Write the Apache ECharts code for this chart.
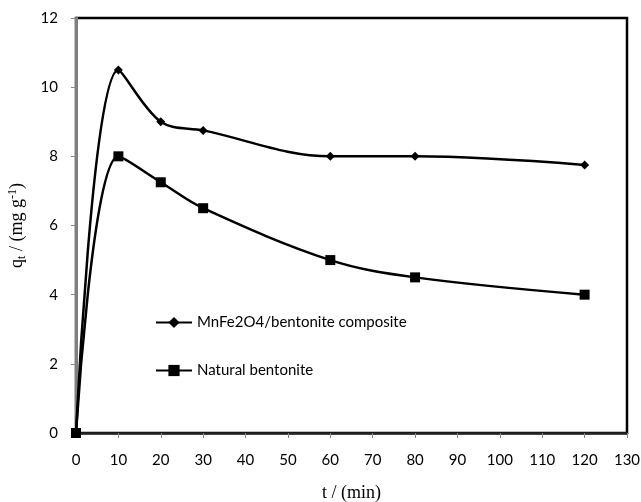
<!DOCTYPE html>
<html>
<head>
<meta charset="utf-8">
<script src="https://cdn.jsdelivr.net/npm/echarts@6/dist/echarts.min.js"></script>
<style>
  html, body { margin: 0; padding: 0; background: #fff; }
  #chart { width: 641px; height: 502px; }
</style>
</head>
<body>
<div id="chart"></div>
<script>
// time points (min)
const times = [0, 10, 20, 30, 60, 80, 120]
// q_t values (mg/g)
const compositeQ = [0, 10.5, 9, 8.75, 8, 8, 7.75]
const bentoniteQ = [0, 8, 7.25, 6.5, 5, 4.5, 4]
const seriesNames = ["MnFe2O4/bentonite composite", "Natural bentonite"]

const chart = echarts.init(document.getElementById("chart"))

const pairs = (ys) => times.map((t, i) => [t, ys[i]])

const tickFont = { fontFamily: "Lato", fontSize: 15, color: "#000" }

const option = {
  animation: false,
  backgroundColor: "#fff",
  grid: {
    left: 76, right: 14, top: 18, bottom: 69,
    outerBoundsMode: "none",
    show: true, borderColor: "#000", borderWidth: 2.5, backgroundColor: "transparent"
  },
  legend: {
    orient: "vertical",
    left: 150,
    top: 310,
    itemGap: 33,
    itemWidth: 36,
    itemHeight: 14,
    textStyle: { fontFamily: "Lato", fontSize: 15, color: "#000" },
    data: seriesNames
  },
  xAxis: {
    type: "value",
    min: 0, max: 130, interval: 10,
    splitLine: { show: false },
    axisLine: { lineStyle: { color: "#222", width: 2.5 } },
    axisTick: { length: 5, lineStyle: { color: "#888" } },
    axisLabel: Object.assign({ margin: 20 }, tickFont),
    name: "t / (min)",
    nameLocation: "middle",
    nameGap: 51,
    nameTextStyle: { fontFamily: "Liberation Serif", fontSize: 18, color: "#000" }
  },
  yAxis: {
    type: "value",
    min: 0, max: 12, interval: 2,
    splitLine: { show: false },
    axisLine: { lineStyle: { color: "#808080", width: 3 } },
    axisTick: { length: 5, lineStyle: { color: "#888" } },
    axisLabel: Object.assign({ margin: 18 }, tickFont),
    name: "q{sub|t} / (mg g{sup|-1})",
    nameLocation: "middle",
    nameGap: 48,
    nameTextStyle: {
      fontFamily: "Liberation Serif", fontSize: 18, color: "#000",
      rich: {
        sub: { fontFamily: "Liberation Serif", fontSize: 12, color: "#000", verticalAlign: "bottom", padding: [9, 0, 0, 0] },
        sup: { fontFamily: "Liberation Serif", fontSize: 12, color: "#000", verticalAlign: "top", padding: [0, 0, 9, 0] }
      }
    }
  },
  series: [
    {
      name: seriesNames[0],
      type: "line",
      smooth: 0.35,
      data: pairs(compositeQ),
      symbol: "diamond",
      symbolSize: 9,
      itemStyle: { color: "#000" },
      lineStyle: { color: "#000", width: 2.5 }
    },
    {
      name: seriesNames[1],
      type: "line",
      smooth: 0.35,
      data: pairs(bentoniteQ),
      symbol: "rect",
      symbolSize: 10,
      itemStyle: { color: "#000" },
      lineStyle: { color: "#000", width: 2.5 }
    }
  ]
}

chart.setOption(option)
</script>
</body>
</html>
